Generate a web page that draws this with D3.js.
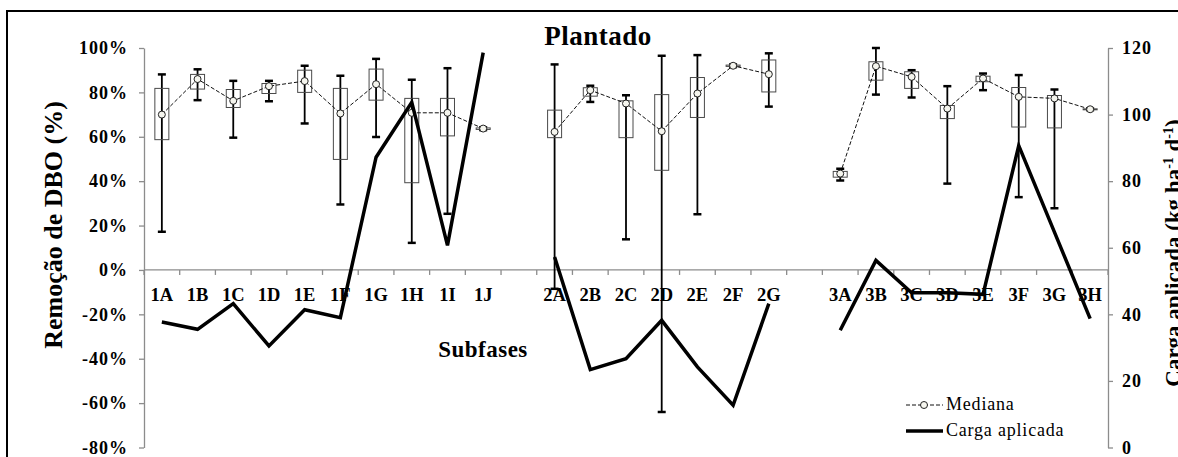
<!DOCTYPE html>
<html>
<head>
<meta charset="utf-8">
<title>Plantado</title>
<script src="https://cdnjs.cloudflare.com/ajax/libs/d3/7.8.5/d3.min.js"></script>
<style>
  body { margin: 0; background: #fff; }
  svg text { font-family: "Liberation Serif", "Times New Roman", serif; fill: #000; }
  .axis path, .axis line { stroke: #8c8c8c; stroke-width: 1.3px; }
  .box { fill: none; stroke: #4a4a4a; stroke-width: 1px; }
  .whisker { stroke: #000; stroke-width: 1.8px; }
  .cap { stroke: #000; stroke-width: 2.5px; }
  .mediana { fill: none; stroke: #111; stroke-width: 1px; stroke-dasharray: 4,2; }
  .ponto { fill: #f5f5ee; stroke: #222; stroke-width: 1px; }
  .carga { fill: none; stroke: #000; stroke-width: 3.5px; stroke-linejoin: miter; }
</style>
</head>
<body>
<svg id="chart" width="1178" height="457"></svg>

<script>
// subfases por fase
var fase1 = ["1A", "1B", "1C", "1D", "1E", "1F", "1G", "1H", "1I", "1J"];
var fase2 = ["2A", "2B", "2C", "2D", "2E", "2F", "2G"];
var fase3 = ["3A", "3B", "3C", "3D", "3E", "3F", "3G", "3H"];

// remoção de DBO (%), na ordem fase1 + fase2 + fase3
var minimo  = [17.2, 76.5, 59.6, 76.0, 66.0, 29.5, 59.9, 12.2, 25.3, 63.0,
               -8.5, 75.7, 13.8, -64.0, 25.1, 91.4, 73.6,
               40.3, 79.0, 77.7, 38.9, 81.0, 32.8, 27.8, 72.0];
var q1      = [58.7, 81.5, 73.2, 79.5, 80.0, 49.8, 76.5, 39.3, 60.4, 63.3,
               59.6, 78.3, 59.6, 44.9, 68.7, 91.7, 80.2,
               41.8, 85.5, 81.8, 68.2, 84.8, 64.4, 64.0, 72.2];
var mediana = [70.0, 86.0, 76.2, 82.8, 85.1, 70.5, 83.7, 70.8, 70.8, 63.7,
               62.2, 81.0, 75.0, 62.5, 79.5, 92.0, 88.2,
               43.4, 91.8, 87.0, 72.7, 86.3, 78.0, 77.3, 72.4];
var q3      = [81.8, 88.1, 81.3, 84.0, 90.0, 81.8, 90.5, 77.3, 77.3, 64.0,
               72.0, 82.1, 76.2, 79.0, 86.7, 92.3, 94.6,
               44.4, 93.8, 89.3, 74.1, 87.3, 82.2, 78.6, 72.6];
var maximo  = [88.1, 90.4, 85.2, 85.2, 92.0, 87.5, 95.1, 85.7, 90.9, 64.3,
               92.6, 83.0, 78.7, 96.5, 96.8, 92.6, 97.6,
               45.6, 100.0, 90.0, 82.8, 88.5, 87.8, 81.3, 72.8];

// carga aplicada (kg ha-1 d-1)
var carga   = [37.7, 35.5, 43.2, 30.5, 41.4, 39.0, 87.2, 103.7, 60.7, 118.6,
               57.2, 23.4, 26.7, 38.2, 24.2, 12.7, 43.2,
               35.2, 56.2, 46.5, 46.5, 46.0, 90.7, 64.7, 38.7];

var ticksRemocao = [-80, -60, -40, -20, 0, 20, 40, 60, 80, 100];
var ticksCarga = [0, 20, 40, 60, 80, 100, 120];

var subfases = fase1.concat(fase2, fase3);
var slots = fase1.concat(["_1"], fase2, ["_2"], fase3);

var dados = subfases.map(function(s, i) {
  return {id: s, fase: s.charAt(0), min: minimo[i], q1: q1[i], med: mediana[i],
          q3: q3[i], max: maximo[i], carga: carga[i]};
});
var porFase = d3.groups(dados, function(d) { return d.fase; });

var svg = d3.select("svg"),
    plot = {left: 144, right: 1108, top: 48, bottom: 447.5};

var x = d3.scaleBand().domain(slots).range([plot.left, plot.right]).padding(0),
    bw = x.bandwidth(),
    yL = d3.scaleLinear().domain([-80, 100]).range([plot.bottom, plot.top]),
    yR = d3.scaleLinear().domain([0, 120]).range([plot.bottom, plot.top]);

function cx(d) { return x(d.id) + bw / 2; }

// moldura
svg.append("rect")
    .attr("x", 7).attr("y", 11)
    .attr("width", 1200).attr("height", 500)
    .attr("fill", "none").attr("stroke", "#000").attr("stroke-width", 2);

// eixo esquerdo
var axL = svg.append("g")
    .attr("class", "axis")
    .attr("transform", "translate(" + plot.left + ",0)")
    .call(d3.axisLeft(yL).tickValues(ticksRemocao).tickSize(5).tickSizeOuter(0).tickPadding(11)
      .tickFormat(function(d) { return d + "%"; }));
axL.attr("font-family", null).attr("font-size", null);
axL.selectAll("text").style("font-size", "18px").style("font-weight", "bold")
    .style("letter-spacing", "1px");

// eixo direito
var axR = svg.append("g")
    .attr("class", "axis")
    .attr("transform", "translate(" + plot.right + ",0)")
    .call(d3.axisRight(yR).tickValues(ticksCarga).tickSize(5).tickSizeOuter(0).tickPadding(9));
axR.attr("font-family", null).attr("font-size", null);
axR.selectAll("text").style("font-size", "18px").style("font-weight", "bold")
    .style("letter-spacing", "1px");

// linha do zero com marcas entre categorias
var y0 = yL(0);
var eixoX = svg.append("g").attr("class", "axis");
eixoX.append("line")
    .attr("x1", plot.left).attr("x2", plot.right).attr("y1", y0).attr("y2", y0);
eixoX.selectAll(".marca")
    .data(slots.concat(["_fim"]))
    .enter().append("line")
    .attr("x1", function(d) { return d === "_fim" ? plot.right : x(d); })
    .attr("x2", function(d) { return d === "_fim" ? plot.right : x(d); })
    .attr("y1", y0).attr("y2", y0 + 5);

svg.append("g").selectAll("text")
    .data(subfases)
    .enter().append("text")
    .attr("x", function(d) { return x(d) + bw / 2; })
    .attr("y", 300.5)
    .attr("text-anchor", "middle")
    .style("font-size", "18.5px").style("font-weight", "bold")
    .text(function(d) { return d; });

// caixas
var caixa = svg.append("g").selectAll(".cx")
    .data(dados)
    .enter().append("g");

caixa.append("line")
    .attr("class", "whisker")
    .attr("x1", cx).attr("x2", cx)
    .attr("y1", function(d) { return yL(d.max); })
    .attr("y2", function(d) { return yL(d.min); });

caixa.append("line")
    .attr("class", "cap")
    .attr("x1", function(d) { return cx(d) - 4; })
    .attr("x2", function(d) { return cx(d) + 4; })
    .attr("y1", function(d) { return yL(d.max); })
    .attr("y2", function(d) { return yL(d.max); });

caixa.append("line")
    .attr("class", "cap")
    .attr("x1", function(d) { return cx(d) - 4; })
    .attr("x2", function(d) { return cx(d) + 4; })
    .attr("y1", function(d) { return yL(d.min); })
    .attr("y2", function(d) { return yL(d.min); });

caixa.append("rect")
    .attr("class", "box")
    .attr("x", function(d) { return cx(d) - 7; })
    .attr("width", 14)
    .attr("y", function(d) { return yL(d.q3); })
    .attr("height", function(d) { return Math.max(1, yL(d.q1) - yL(d.q3)); });

// mediana
var linhaMed = d3.line()
    .x(cx)
    .y(function(d) { return yL(d.med); });

svg.append("g").selectAll("path")
    .data(porFase)
    .enter().append("path")
    .attr("class", "mediana")
    .attr("d", function(g) { return linhaMed(g[1]); });

svg.append("g").selectAll("circle")
    .data(dados)
    .enter().append("circle")
    .attr("class", "ponto")
    .attr("cx", cx)
    .attr("cy", function(d) { return yL(d.med); })
    .attr("r", 3.5);

// carga aplicada
var linhaCarga = d3.line()
    .x(cx)
    .y(function(d) { return yR(d.carga); });

svg.append("g").selectAll("path")
    .data(porFase)
    .enter().append("path")
    .attr("class", "carga")
    .attr("d", function(g) { return linhaCarga(g[1]); });

// textos
svg.append("text")
    .attr("x", 598).attr("y", 45)
    .attr("text-anchor", "middle")
    .style("font-size", "27px").style("font-weight", "bold")
    .style("letter-spacing", "0.5px")
    .text("Plantado");

svg.append("text")
    .attr("x", 483).attr("y", 357)
    .attr("text-anchor", "middle")
    .style("font-size", "23px").style("font-weight", "bold")
    .style("letter-spacing", "0.5px")
    .text("Subfases");

svg.append("text")
    .attr("transform", "translate(62,225) rotate(-90)")
    .attr("text-anchor", "middle")
    .style("font-size", "26px").style("font-weight", "bold")
    .text("Remoção de DBO (%)");

var tituloR = svg.append("text")
    .attr("transform", "translate(1181,253) rotate(-90)")
    .attr("text-anchor", "middle")
    .style("font-size", "23px").style("font-weight", "bold");
tituloR.append("tspan").text("Carga aplicada (kg ha");
tituloR.append("tspan").attr("dy", -8).style("font-size", "14px").text("-1");
tituloR.append("tspan").attr("dy", 8).text(" d");
tituloR.append("tspan").attr("dy", -8).style("font-size", "14px").text("-1");
tituloR.append("tspan").attr("dy", 8).text(")");

// legenda
var leg = svg.append("g");
leg.append("line")
    .attr("class", "mediana")
    .attr("x1", 906).attr("x2", 943).attr("y1", 405).attr("y2", 405);
leg.append("circle")
    .attr("class", "ponto")
    .attr("cx", 924).attr("cy", 405).attr("r", 3.5);
leg.append("text")
    .attr("x", 946).attr("y", 410)
    .style("font-size", "18px").style("letter-spacing", "0.8px")
    .text("Mediana");
leg.append("line")
    .attr("class", "carga")
    .attr("x1", 906).attr("x2", 943).attr("y1", 431).attr("y2", 431);
leg.append("text")
    .attr("x", 946).attr("y", 436)
    .style("font-size", "18px").style("letter-spacing", "0.8px")
    .text("Carga aplicada");
</script>
</body>
</html>
